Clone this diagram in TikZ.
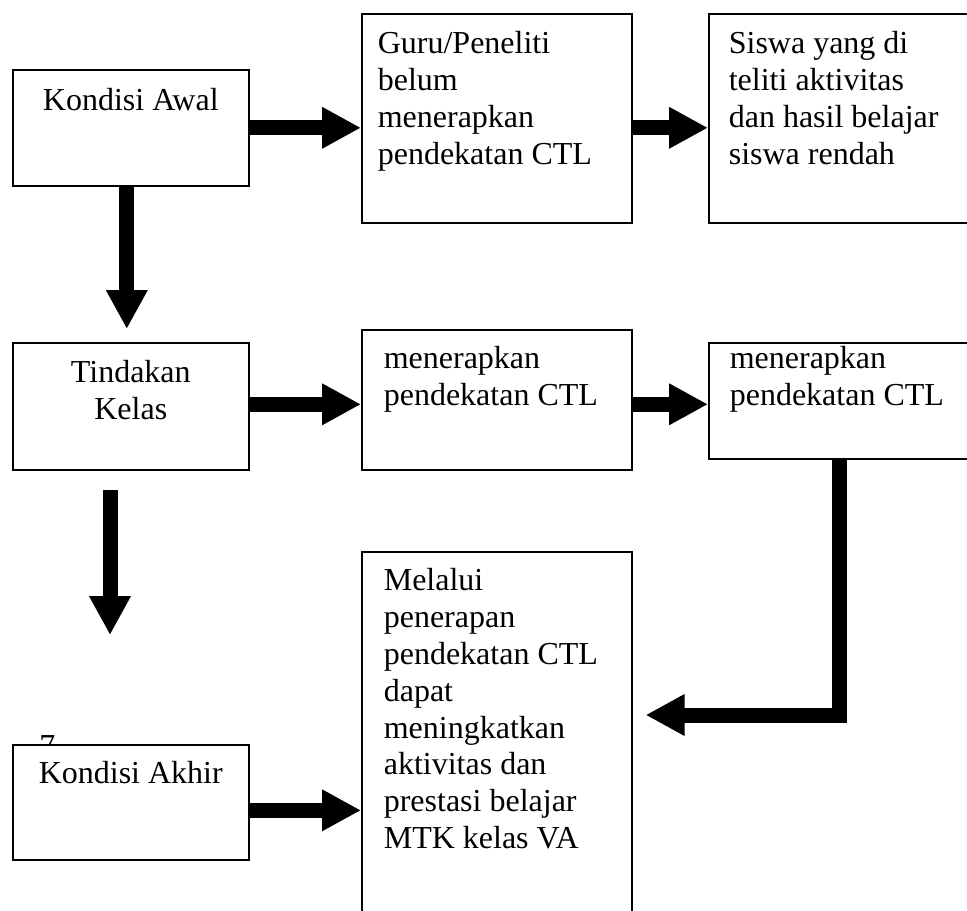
\documentclass[tikz,border=0pt]{standalone}
\usepackage{fontspec}
\setmainfont{Liberation Serif}
\usetikzlibrary{arrows.meta}

% text of a box: [first baseline]{width}{height}{text}
\newcommand{\stagetext}[4][20pt]{\parbox[c][#3][t]{#2}{\rule{0pt}{#1}#4}}

\begin{document}
\begin{tikzpicture}[x=0.5pt,y=-0.5pt,
    flow/.style={line width=7.5pt,-{Triangle[length=19.5pt,width=19.5pt]}},
    stage/.style={draw,line width=0.8pt,fill=white,anchor=north west,inner ysep=0pt,
        font=\fontsize{16}{18.4}\selectfont}]
  \useasboundingbox (0,0) rectangle (967,910);
  \clip (0,0) rectangle (967,910);

  % top row
  \node[stage,inner xsep=0pt] (KA) at (12,69)
    {\stagetext[20.5pt]{118pt}{58pt}{\centering Kondisi Awal}};
  \node[stage,inner xsep=8pt] (GP) at (361,13)
    {\stagetext{119pt}{104.5pt}{\raggedright Guru/Peneliti\\belum\\menerapkan\\pendekatan CTL}};
  \node[stage,inner xsep=10pt] (SW) at (708,13)
    {\stagetext{118.5pt}{104.5pt}{\raggedright Siswa yang di\\teliti aktivitas\\dan hasil belajar\\siswa rendah}};

  % middle row
  \node[stage,inner xsep=0pt] (TK) at (12,342)
    {\stagetext{118pt}{63.5pt}{\centering Tindakan\\Kelas}};
  \node[stage,inner xsep=11pt] (M1) at (361,329)
    {\stagetext[19.5pt]{113pt}{70pt}{\raggedright menerapkan\\pendekatan CTL}};
  \node[stage,inner xsep=10.5pt] (M2) at (708,342)
    {\stagetext[13pt]{117.5pt}{58pt}{\raggedright menerapkan\\pendekatan CTL}};

  % bottom row
  \node[font=\fontsize{16}{18.4}\selectfont,anchor=base west,inner sep=0pt] (pg) at (39,756) {7};
  \node[stage,inner xsep=0pt] (KK) at (12,744)
    {\stagetext[19.5pt]{118pt}{57.5pt}{\centering Kondisi Akhir}};
  \node[stage,inner xsep=11pt] (MP) at (361,551)
    {\stagetext[19.5pt]{113pt}{200pt}{\raggedright Melalui\\penerapan\\pendekatan CTL\\dapat\\meningkatkan\\aktivitas dan\\prestasi belajar\\MTK kelas VA}};

  \coordinate (gap) at (110,490);
  \coordinate (gapend) at (110,635);
  \coordinate (bend) at (839.5,715);

  % arrows
  \draw[flow] (KA.east) -- (KA.east -| GP.west);
  \draw[flow] (GP.east |- KA.east) -- (KA.east -| SW.west);
  \draw[flow,shorten >=6.5pt] ([xshift=-2pt]KA.south) -- ([xshift=-2pt]KA.south |- TK.north);
  \draw[flow] ([yshift=1pt]TK.east) -- ([yshift=1pt]TK.east -| M1.west);
  \draw[flow] ([yshift=1pt]M1.east |- TK.east) -- ([yshift=1pt]TK.east -| M2.west);
  \draw[flow] (gap) -- (gapend);
  \draw[flow] ([yshift=-4pt]KK.east) -- ([yshift=-4pt]KK.east -| MP.west);
  \draw[flow,shorten >=6.5pt] (M2.south -| bend) -- (bend) -- (bend -| MP.east);
\end{tikzpicture}
\end{document}
